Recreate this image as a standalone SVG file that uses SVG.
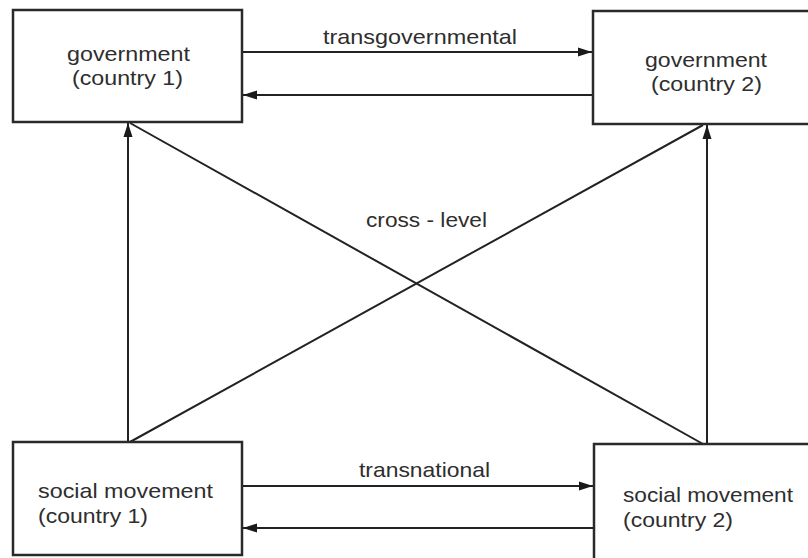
<svg xmlns="http://www.w3.org/2000/svg" width="808" height="558" viewBox="0 0 808 558">
<style>
.box{fill:#fff;stroke:#2a2a2a;stroke-width:2.5}
.ln{stroke:#222;stroke-width:2;fill:none}
.ar{marker-end:url(#ah)}
text{font-family:"Liberation Sans",Arial,sans-serif;font-size:21px;fill:#2e2e2e}
.c{text-anchor:middle}
</style>
<defs>
<marker id="ah" markerUnits="userSpaceOnUse" markerWidth="16" markerHeight="10" refX="14" refY="5" orient="auto">
<path d="M0,0.5 L14,5 L0,9.5 z" fill="#1a1a1a"/>
</marker>
</defs>
<rect width="808" height="558" fill="#fff"/>
<g id="connectors">
<line class="ln ar" x1="243" y1="52" x2="592" y2="52"/>
<line class="ln ar" x1="592" y1="95" x2="243" y2="95"/>
<line class="ln ar" x1="243" y1="486" x2="593" y2="486"/>
<line class="ln ar" x1="593" y1="528" x2="243" y2="528"/>
<line class="ln ar" x1="128" y1="442" x2="128" y2="123"/>
<line class="ln ar" x1="707" y1="444" x2="707" y2="125"/>
<line class="ln" x1="130" y1="442" x2="703" y2="125"/>
<line class="ln" x1="130" y1="123" x2="703" y2="444"/>
<text class="c" x="420" y="44" textLength="194" lengthAdjust="spacingAndGlyphs">transgovernmental</text>
<text class="c" x="426.5" y="227" textLength="121" lengthAdjust="spacingAndGlyphs">cross - level</text>
<text class="c" x="424.5" y="477" textLength="131" lengthAdjust="spacingAndGlyphs">transnational</text>
</g>
<g id="gov1">
<rect class="box" x="13" y="10" width="229" height="112"/>
<text x="67" y="61" textLength="123" lengthAdjust="spacingAndGlyphs">government</text>
<text x="72" y="85" textLength="111" lengthAdjust="spacingAndGlyphs">(country 1)</text>
</g>
<g id="gov2">
<rect class="box" x="593" y="11" width="230" height="113"/>
<text x="645" y="67" textLength="122" lengthAdjust="spacingAndGlyphs">government</text>
<text x="651" y="91" textLength="111" lengthAdjust="spacingAndGlyphs">(country 2)</text>
</g>
<g id="sm1">
<rect class="box" x="13" y="442" width="229" height="113"/>
<text x="38" y="498" textLength="175" lengthAdjust="spacingAndGlyphs">social movement</text>
<text x="38" y="523" textLength="110" lengthAdjust="spacingAndGlyphs">(country 1)</text>
</g>
<g id="sm2">
<rect class="box" x="594" y="444" width="230" height="130"/>
<text x="623" y="502" textLength="170" lengthAdjust="spacingAndGlyphs">social movement</text>
<text x="623" y="527" textLength="110" lengthAdjust="spacingAndGlyphs">(country 2)</text>
</g>
</svg>
